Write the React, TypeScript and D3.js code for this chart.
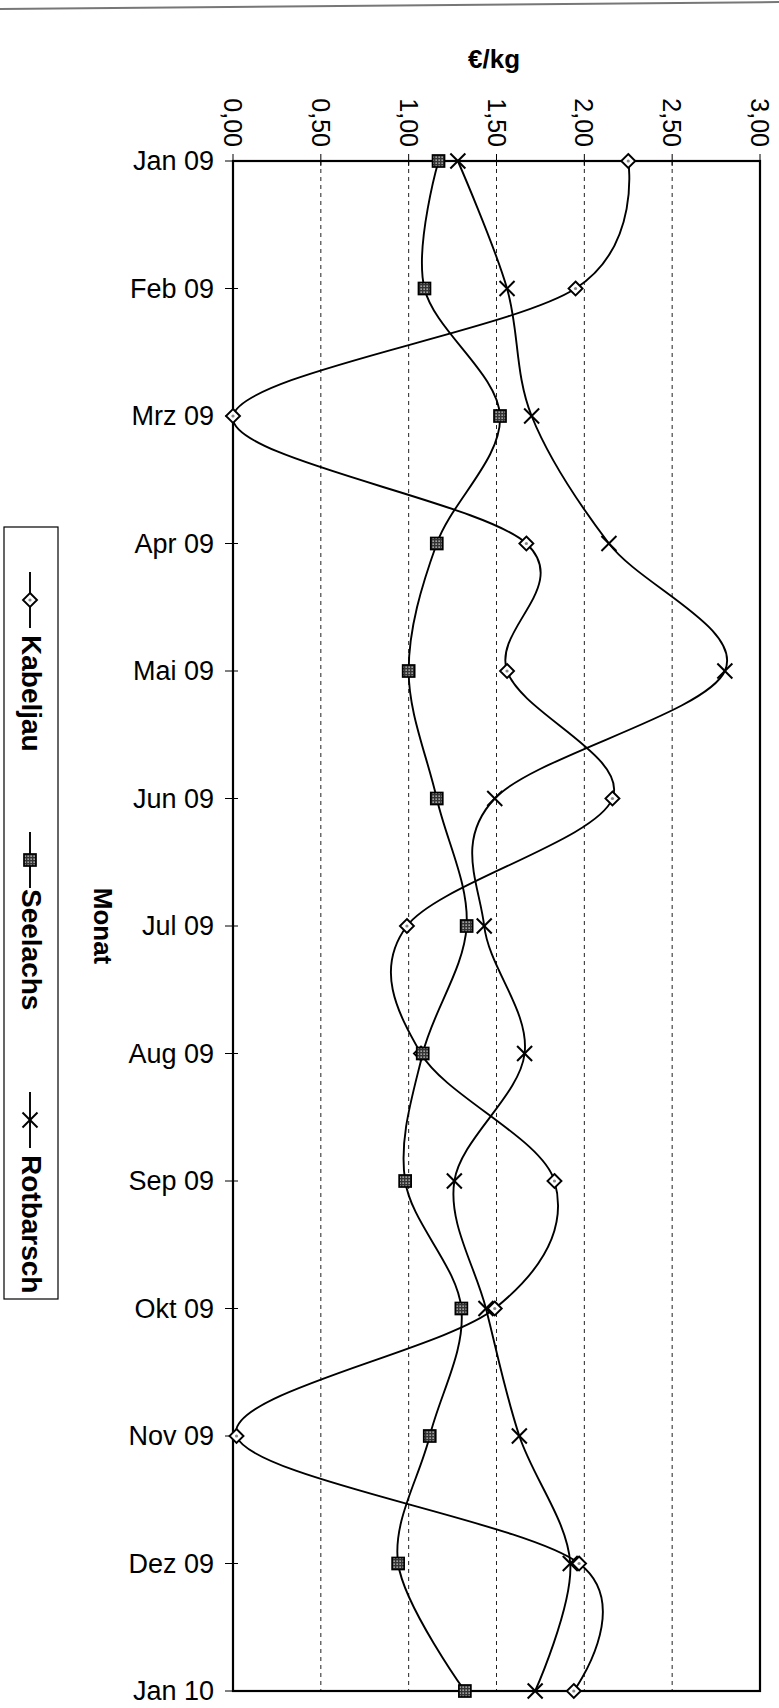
import * as d3 from "d3";

// Monate (Kategorien)
const months = [
  "Jan 09", "Feb 09", "Mrz 09", "Apr 09", "Mai 09", "Jun 09", "Jul 09",
  "Aug 09", "Sep 09", "Okt 09", "Nov 09", "Dez 09", "Jan 10"
];

// Preise in €/kg
const kabeljau = [2.25, 1.95, 0.0, 1.67, 1.56, 2.16, 0.99, 1.07, 1.83, 1.49, 0.02, 1.97, 1.94];
const seelachs = [1.17, 1.09, 1.52, 1.16, 1.0, 1.16, 1.33, 1.08, 0.98, 1.3, 1.12, 0.94, 1.32];
const rotbarsch = [1.28, 1.56, 1.7, 2.14, 2.8, 1.49, 1.43, 1.66, 1.26, 1.44, 1.63, 1.92, 1.72];

const valueTicks = [0, 0.5, 1, 1.5, 2, 2.5, 3];
const tickLabels = ["0,00", "0,50", "1,00", "1,50", "2,00", "2,50", "3,00"];

const seriesNames = ["Kabeljau", "Seelachs", "Rotbarsch"];

const W = 779;
const H = 1708;
const FONT = "'Liberation Sans', Arial, sans-serif";

function Marker({ kind, x, y }: { kind: string; x: number; y: number }) {
  if (kind === "diamond") {
    return (
      <g transform={`translate(${x},${y})`}>
        <path d="M0,-7L7,0L0,7L-7,0Z" fill="#fff" stroke="#000" strokeWidth={1.9} />
        <circle r={1.6} fill="#888" />
      </g>
    );
  }
  if (kind === "square") {
    return (
      <rect
        x={x - 6}
        y={y - 6}
        width={12}
        height={12}
        fill="url(#chk)"
        stroke="#000"
        strokeWidth={1.7}
      />
    );
  }
  return (
    <g stroke="#000" strokeWidth={2}>
      <line x1={x - 7.5} y1={y - 7.5} x2={x + 7.5} y2={y + 7.5} />
      <line x1={x - 7.5} y1={y + 7.5} x2={x + 7.5} y2={y - 7.5} />
    </g>
  );
}

export default function App() {
  const left = 233;
  const right = 760;
  const top = 161;
  const bottom = 1691;

  const x = d3.scaleLinear().domain([0, 3]).range([left, right]);
  const y = d3.scalePoint<string>().domain(months).range([top, bottom]);

  const line = d3
    .line<number>()
    .x((d) => x(d))
    .y((_, i) => y(months[i]) ?? 0)
    .curve(d3.curveCardinal.tension(0));

  const series = [
    { name: seriesNames[0], data: kabeljau, kind: "diamond" },
    { name: seriesNames[1], data: seelachs, kind: "square" },
    { name: seriesNames[2], data: rotbarsch, kind: "cross" }
  ];

  // Legende (vertikal, gedreht)
  const legendItems = [
    { marker: 600, textStart: 635 },
    { marker: 860, textStart: 889 },
    { marker: 1120, textStart: 1155 }
  ];

  return (
    <svg
      width={W}
      height={H}
      style={{ position: "absolute", left: 0, top: 0, background: "#fff" }}
      fontFamily={FONT}
    >
      <defs>
        <pattern id="chk" width={3} height={3} patternUnits="userSpaceOnUse">
          <rect width={3} height={3} fill="#333" />
          <rect x={0.5} y={0.5} width={1.3} height={1.3} fill="#ddd" />
        </pattern>
      </defs>

      {/* Scan-Kante oben */}
      <line x1={0} y1={9} x2={W} y2={2} stroke="#777" strokeWidth={2} />

      {/* Achsentitel */}
      <text x={494} y={68} textAnchor="middle" fontSize={26} fontWeight="bold">
        €/kg
      </text>

      {/* Gitterlinien */}
      {valueTicks.slice(1, -1).map((v) => (
        <line
          key={v}
          x1={x(v)}
          x2={x(v)}
          y1={top}
          y2={bottom}
          stroke="#222"
          strokeWidth={1}
          strokeDasharray="4,4"
        />
      ))}

      {/* Werteachse oben */}
      {valueTicks.map((v, i) => (
        <g key={v}>
          <line x1={x(v)} x2={x(v)} y1={top - 7} y2={top + 5} stroke="#000" strokeWidth={1} />
          <text
            transform={`translate(${x(v)},${top - 14}) rotate(90)`}
            textAnchor="end"
            dominantBaseline="central"
            fontSize={25}
          >
            {tickLabels[i]}
          </text>
        </g>
      ))}

      {/* Kategorieachse links */}
      {months.map((m) => (
        <g key={m}>
          <line
            x1={left - 8}
            x2={left + 5}
            y1={y(m)}
            y2={y(m)}
            stroke="#000"
            strokeWidth={1}
          />
          <text
            x={left - 19}
            y={y(m)}
            textAnchor="end"
            dominantBaseline="central"
            fontSize={27}
          >
            {m}
          </text>
        </g>
      ))}

      {/* Rahmen */}
      <rect
        x={left}
        y={top}
        width={right - left}
        height={bottom - top}
        fill="none"
        stroke="#000"
        strokeWidth={2.2}
      />

      {/* Linien */}
      {series.map((s) => (
        <path key={s.name} d={line(s.data) ?? ""} fill="none" stroke="#000" strokeWidth={1.9} />
      ))}

      {/* Marker */}
      {series.map((s) =>
        s.data.map((v, i) => (
          <Marker key={s.name + i} kind={s.kind} x={x(v)} y={y(months[i]) ?? 0} />
        ))
      )}

      {/* Achsentitel Monat */}
      <text
        transform={`translate(103,${(top + bottom) / 2}) rotate(90)`}
        textAnchor="middle"
        dominantBaseline="central"
        fontSize={26}
        fontWeight="bold"
      >
        Monat
      </text>

      {/* Legende */}
      <rect x={4} y={527} width={54} height={772} fill="#fff" stroke="#000" strokeWidth={1.2} />
      {series.map((s, i) => {
        const it = legendItems[i];
        return (
          <g key={s.name}>
            <line x1={30} x2={30} y1={it.marker - 28} y2={it.marker + 28} stroke="#000" strokeWidth={1.9} />
            <Marker kind={s.kind} x={30} y={it.marker} />
            <text
              transform={`translate(31,${it.textStart}) rotate(90)`}
              textAnchor="start"
              dominantBaseline="central"
              fontSize={28}
              fontWeight="bold"
            >
              {s.name}
            </text>
          </g>
        );
      })}
    </svg>
  );
}
